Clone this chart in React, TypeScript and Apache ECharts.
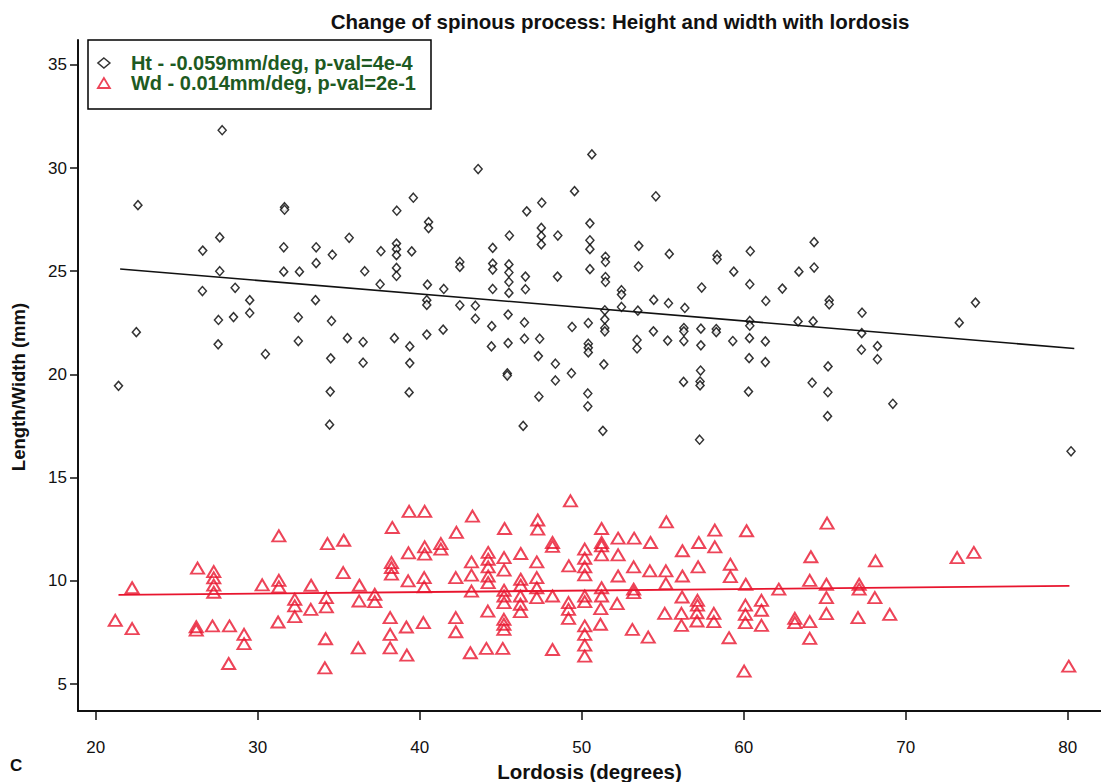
import React, { useEffect, useRef } from "react";
import * as echarts from "echarts";

const TITLE = "Change of spinous process: Height and width with lordosis";
const X_NAME = "Lordosis (degrees)";
const Y_NAME = "Length/Width (mm)";
const PANEL = "C";
const HT_NAME = "Ht - -0.059mm/deg, p-val=4e-4";
const WD_NAME = "Wd - 0.014mm/deg, p-val=2e-1";
const X_TICKS = [20, 30, 40, 50, 60, 70, 80];
const Y_TICKS = [5, 10, 15, 20, 25, 30, 35];

// Height (black diamonds): [lordosis deg, mm]
const htPoints: [number, number][] = [
  [27.8,31.83],[22.6,28.2],[31.65,28.1],[31.65,27.98],[27.65,26.64],[26.6,26.0],[31.6,26.16],[33.6,26.16],[34.6,25.8],[33.6,25.39],[27.65,25.0],[31.6,24.98],[32.57,24.98],[26.58,24.04],[28.6,24.2],[29.5,23.6],[33.56,23.6],[29.5,22.98],[27.57,22.64],[28.5,22.78],[32.5,22.77],[34.55,22.59],[22.5,22.05],[27.55,21.46],[32.5,21.62],[30.47,20.99],[34.5,20.78],[34.47,19.17],[21.4,19.45],[34.43,17.57],
  [43.6,29.95],[39.6,28.56],[38.58,27.93],[40.54,27.38],[40.54,27.09],[35.64,26.62],[37.6,25.97],[38.56,26.34],[38.56,26.07],[38.56,25.78],[39.5,25.96],[38.56,25.16],[38.56,24.77],[36.6,25.0],[37.55,24.37],[40.47,24.35],[41.48,24.14],[40.43,23.6],[40.43,23.37],[42.47,25.45],[42.47,25.21],[44.5,26.13],[44.5,25.37],[44.5,25.08],[45.5,25.33],[45.5,24.94],[45.5,24.48],[45.5,23.95],[46.52,24.74],[46.52,24.13],[45.53,26.73],[46.6,27.9],[47.53,28.32],[47.5,27.1],[47.5,26.7],[47.5,26.3],[48.52,26.73],[49.55,28.88],[48.5,24.74],[44.5,24.14],[42.47,23.35],[43.43,23.33],[43.43,22.7],[44.44,22.34],[45.45,22.9],[46.46,22.52],[46.46,21.73],[47.4,21.73],[44.42,21.36],[45.45,21.52],[41.44,22.17],[40.43,21.93],[38.43,21.76],[39.38,21.36],[35.53,21.76],[36.5,21.57],[36.5,20.57],[39.38,20.55],[39.34,19.13],[45.4,20.05],[45.4,19.95],[47.32,20.89],[48.37,20.52],[48.37,19.71],[49.36,20.06],[49.4,22.3],[47.35,18.93],[46.38,17.51],
  [50.62,30.66],[54.57,28.63],[50.5,27.32],[50.5,26.5],[50.5,26.07],[50.5,25.1],[51.46,25.7],[51.46,25.45],[51.46,24.72],[51.46,24.48],[52.45,24.08],[52.45,23.87],[52.45,23.27],[53.52,26.23],[53.5,25.23],[55.4,25.84],[54.44,23.61],[55.35,23.45],[56.36,23.22],[53.46,23.09],[51.42,23.11],[51.42,22.67],[51.42,22.25],[51.42,22.09],[50.4,22.49],[50.4,21.49],[50.4,21.29],[50.4,21.07],[51.36,20.49],[50.37,19.08],[50.37,18.46],[51.3,17.27],[53.41,21.67],[53.41,21.26],[54.42,22.09],[55.3,21.64],[56.3,22.25],[56.3,22.09],[56.3,21.62],[57.4,24.21],[57.35,22.22],[57.35,21.41],[58.35,25.78],[58.35,25.58],[58.3,22.2],[58.3,22.05],[59.38,24.98],[59.32,21.62],[60.4,25.97],[60.37,24.37],[61.36,23.56],[62.38,24.16],[63.4,24.98],[64.34,26.41],[64.34,25.18],[65.27,23.59],[65.27,23.4],[60.37,22.59],[60.37,22.36],[60.35,21.76],[61.33,21.6],[63.35,22.57],[64.28,22.57],[60.33,20.79],[61.33,20.6],[57.33,20.19],[57.3,19.66],[57.3,19.47],[56.28,19.64],[60.29,19.17],[57.27,16.84],[64.22,19.6],[65.2,20.39],[65.19,19.14],[65.17,17.98],[67.3,22.99],[67.28,22.0],[67.26,21.2],[68.25,21.37],[68.25,20.74],[69.2,18.58],[73.3,22.51],[74.3,23.48],[80.2,16.28],
];

// Width (red triangles): [lordosis deg, mm]
const wdPoints: [number, number][] = [
  [31.3,12.18],[34.3,11.81],[26.28,10.62],[27.28,10.45],[27.28,10.15],[27.28,9.8],[27.28,9.45],[22.24,9.67],[30.27,9.81],[31.3,10.03],[31.3,9.71],[33.29,9.79],[34.23,9.19],[34.23,8.74],[32.28,9.11],[32.28,8.79],[32.28,8.27],[33.27,8.62],[21.2,8.09],[22.24,7.69],[26.2,7.78],[26.2,7.62],[27.2,7.82],[28.25,7.82],[31.25,8.01],[29.15,7.41],[29.15,6.96],[28.2,6.0],[34.18,7.2],[34.14,5.79],
  [35.3,11.97],[35.27,10.4],[39.34,13.37],[40.3,13.37],[38.3,12.59],[43.25,13.14],[42.26,12.35],[45.23,12.54],[47.28,12.95],[47.28,12.51],[49.3,13.88],[39.3,11.36],[40.3,11.65],[40.3,11.3],[41.3,11.81],[41.3,11.54],[38.25,10.89],[38.25,10.65],[38.25,10.33],[39.28,10.0],[40.27,10.16],[40.27,9.71],[36.27,9.79],[37.22,9.35],[37.22,9.0],[36.25,9.03],[42.22,10.16],[43.19,10.92],[43.19,10.28],[44.22,11.38],[44.22,11.05],[44.22,10.68],[44.22,10.24],[44.22,9.92],[45.2,11.13],[45.2,10.52],[46.23,11.33],[47.22,10.92],[48.19,11.86],[48.19,11.67],[49.2,10.73],[50.18,11.54],[50.18,11.1],[50.18,10.68],[50.18,10.29],[46.23,10.08],[46.23,9.79],[47.22,10.16],[47.22,9.67],[47.22,9.19],[45.2,9.55],[45.2,9.27],[45.2,8.95],[46.21,9.27],[46.21,8.87],[46.21,8.51],[48.19,9.27],[49.18,8.95],[49.18,8.62],[49.18,8.19],[50.18,9.27],[50.18,9.0],[43.19,9.51],[44.2,8.54],[42.22,8.22],[42.22,7.54],[45.19,8.14],[45.19,7.9],[45.19,7.65],[38.17,8.22],[38.17,7.41],[39.17,7.77],[40.22,7.98],[38.17,6.76],[36.2,6.76],[39.2,6.41],[43.12,6.52],[44.11,6.73],[45.12,6.73],[48.19,6.68],[50.18,7.82],[50.18,7.41],[50.18,6.89],[50.18,6.36],
  [55.22,12.86],[51.22,12.54],[58.21,12.46],[60.17,12.43],[65.14,12.8],[52.24,12.07],[53.23,12.07],[54.24,11.86],[51.22,11.86],[51.22,11.7],[51.22,11.26],[52.24,11.26],[56.21,11.46],[57.22,11.86],[58.21,11.65],[64.14,11.17],[68.13,10.97],[73.17,11.13],[74.2,11.38],[53.2,10.68],[54.2,10.49],[55.19,10.49],[52.24,10.24],[56.21,10.24],[57.18,10.68],[59.17,10.81],[59.17,10.21],[55.19,9.87],[51.22,9.67],[51.22,9.27],[53.2,9.6],[53.2,9.43],[56.19,9.22],[57.14,9.06],[57.14,8.83],[60.12,9.84],[62.16,9.6],[64.07,10.03],[65.1,9.84],[65.1,9.19],[67.12,9.84],[67.12,9.6],[68.09,9.19],[52.18,8.9],[51.17,8.66],[61.09,9.06],[61.09,8.58],[60.1,8.83],[60.1,8.38],[60.1,7.98],[55.12,8.43],[56.15,8.43],[56.15,7.85],[57.11,8.46],[57.11,8.06],[58.15,8.43],[58.15,8.03],[61.09,7.85],[63.15,8.19],[63.15,7.98],[64.07,8.03],[65.1,8.42],[67.05,8.22],[69.01,8.38],[51.15,7.9],[53.12,7.65],[54.1,7.28],[59.09,7.25],[64.07,7.22],[60.02,5.63],[80.06,5.87],
];

// Fitted regression lines (endpoints)
const htFit: [number, number][] = [[21.5, 25.11], [80.4, 21.26]];
const wdFit: [number, number][] = [[21.4, 9.32], [80.1, 9.76]];

const SANS = "'Liberation Sans', Arial, sans-serif";
const RED = "#e8152e";
const GREEN = "#1d5a22";

export default function App() {
  const ref = useRef<HTMLDivElement>(null);
  useEffect(() => {
    if (!ref.current) return;
    const chart = echarts.init(ref.current, undefined, { renderer: "svg" });
    chart.setOption({
      animation: false,
      backgroundColor: "#fff",
      title: {
        text: TITLE,
        left: 615,
        top: 6,
        textAlign: "center",
        textStyle: { fontFamily: SANS, fontSize: 20.5, fontWeight: "bold", color: "#111" },
      },
      legend: {
        left: 88,
        top: 40,
        orient: "vertical",
        itemGap: 0,
        itemWidth: 12,
        itemHeight: 10,
        padding: [13, 15, 16, 9],
        borderColor: "#000",
        borderWidth: 1.5,
        backgroundColor: "#fff",
        textStyle: {
          fontFamily: SANS,
          fontSize: 20,
          color: GREEN,
          fontWeight: "bold",
          padding: [0, 0, 0, 16],
        },
        data: [
          { name: HT_NAME, icon: "diamond", itemStyle: { color: "#fff", borderColor: "#000", borderWidth: 1.5 } },
          { name: WD_NAME, icon: "triangle", itemStyle: { color: "#fff", borderColor: RED, borderWidth: 1.8 } },
        ],
      },
      grid: { left: 78, top: 40, right: 0, bottom: 71, containLabel: false, outerBoundsMode: "none" },
      xAxis: {
        type: "value",
        min: 18.9,
        max: 82.05,
        name: X_NAME,
        nameLocation: "middle",
        nameGap: 48,
        nameTextStyle: { fontFamily: SANS, fontSize: 20.5, fontWeight: "bold", color: "#111" },
        axisLine: { show: true, onZero: false, lineStyle: { color: "#111", width: 2 } },
        axisTick: { show: true, inside: false, length: 9, customValues: X_TICKS, lineStyle: { color: "#111", width: 1.5 } },
        axisLabel: { customValues: X_TICKS, margin: 28, fontFamily: SANS, fontSize: 17, color: "#111" },
        splitLine: { show: false },
      },
      yAxis: {
        type: "value",
        min: 3.7,
        max: 36.2,
        axisLine: { show: true, onZero: false, lineStyle: { color: "#111", width: 2 } },
        axisTick: { show: true, inside: false, length: 8, customValues: Y_TICKS, lineStyle: { color: "#111", width: 1.5 } },
        axisLabel: { customValues: Y_TICKS, margin: 11, fontFamily: SANS, fontSize: 17, color: "#111" },
        splitLine: { show: false },
      },
      graphic: [
        {
          type: "text",
          left: 10,
          top: 757,
          style: { text: PANEL, fontFamily: SANS, fontSize: 17, fontWeight: "bold", fill: "#111" },
        },
        {
          type: "text",
          x: 18,
          y: 387,
          rotation: Math.PI / 2,
          style: {
            text: Y_NAME,
            fontFamily: SANS,
            fontSize: 18.5,
            fontWeight: "bold",
            fill: "#111",
            textAlign: "center",
            textVerticalAlign: "middle",
          },
        },
      ],
      series: [
        {
          name: HT_NAME,
          type: "scatter",
          symbol: "diamond",
          symbolSize: [8, 9],
          itemStyle: { color: "#fff", borderColor: "#000", borderWidth: 1.5 },
          data: htPoints,
          z: 3,
        },
        {
          name: WD_NAME,
          type: "scatter",
          symbol: "triangle",
          symbolSize: [13, 11],
          itemStyle: { color: "rgba(255,255,255,0)", borderColor: RED, borderWidth: 2 },
          data: wdPoints,
          z: 2,
        },
        {
          name: "Ht fit",
          type: "line",
          data: htFit,
          symbol: "none",
          lineStyle: { color: "#111", width: 1.6 },
          z: 4,
        },
        {
          name: "Wd fit",
          type: "line",
          data: wdFit,
          symbol: "none",
          lineStyle: { color: RED, width: 1.8 },
          z: 4,
        },
      ],
    });
    return () => chart.dispose();
  }, []);
  return (
    <div
      ref={ref}
      style={{ position: "fixed", left: 0, top: 0, width: 1101, height: 782, background: "#fff" }}
    />
  );
}
